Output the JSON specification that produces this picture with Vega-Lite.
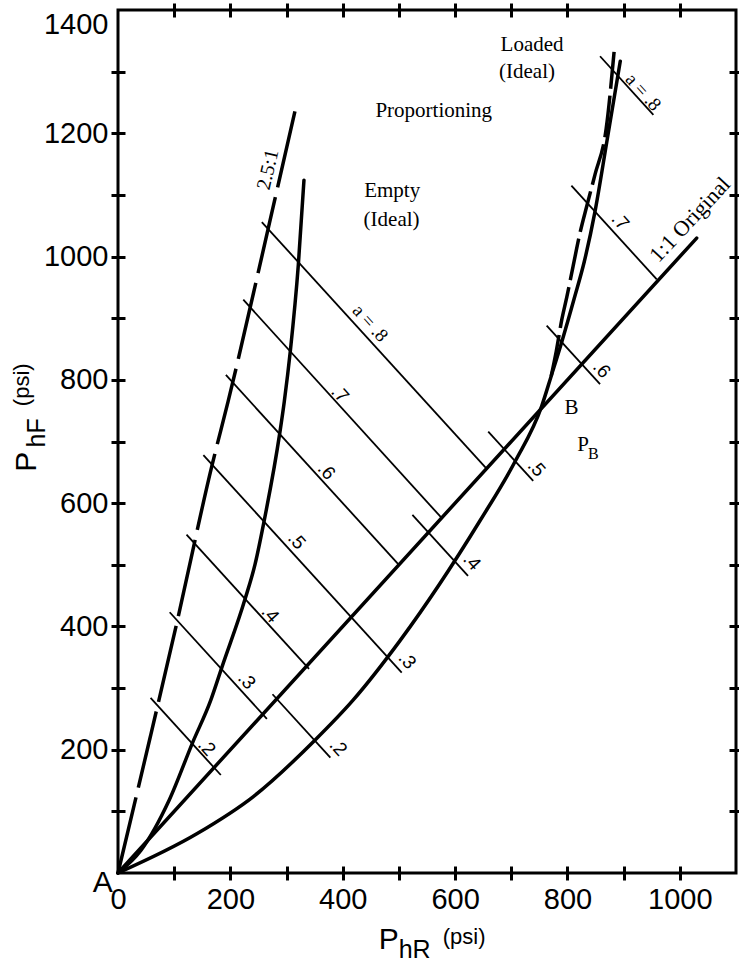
{
  "$schema": "https://vega.github.io/schema/vega-lite/v6.json",
  "width": 618,
  "height": 863,
  "autosize": {"type": "none"},
  "padding": {"left": 118, "top": 10, "right": 3, "bottom": 95},
  "background": "white",
  "config": {
    "view": {"stroke": "black", "strokeWidth": 3},
    "axis": {
      "domain": false,
      "grid": false,
      "offset": -7,
      "tickSize": 14,
      "tickWidth": 3,
      "tickColor": "black",
      "labelFont": "Liberation Sans Narrow, Liberation Sans, sans-serif",
      "labelFontSize": 29,
      "labelColor": "black",
      "format": "d"
    }
  },
  "datasets": {
    "curves": [
      {"curve": "2.5:1", "x": 0, "y": 0},
      {"curve": "2.5:1", "x": 57, "y": 219},
      {"curve": "2.5:1", "x": 105, "y": 407},
      {"curve": "2.5:1", "x": 167, "y": 660},
      {"curve": "2.5:1", "x": 196, "y": 765},
      {"curve": "2.5:1", "x": 267, "y": 1044},
      {"curve": "2.5:1", "x": 284, "y": 1112},
      {"curve": "2.5:1", "x": 318, "y": 1248},
      {"curve": "Empty", "x": 0, "y": 0},
      {"curve": "Empty", "x": 41, "y": 37},
      {"curve": "Empty", "x": 91, "y": 118},
      {"curve": "Empty", "x": 133, "y": 212},
      {"curve": "Empty", "x": 165, "y": 280},
      {"curve": "Empty", "x": 185, "y": 334},
      {"curve": "Empty", "x": 226, "y": 444},
      {"curve": "Empty", "x": 244, "y": 501},
      {"curve": "Empty", "x": 259, "y": 566},
      {"curve": "Empty", "x": 288, "y": 714},
      {"curve": "Empty", "x": 296, "y": 765},
      {"curve": "Empty", "x": 307, "y": 849},
      {"curve": "Empty", "x": 321, "y": 987},
      {"curve": "Empty", "x": 331, "y": 1124},
      {"curve": "Loaded", "x": 0, "y": 0},
      {"curve": "Loaded", "x": 141, "y": 64},
      {"curve": "Loaded", "x": 241, "y": 124},
      {"curve": "Loaded", "x": 350, "y": 215},
      {"curve": "Loaded", "x": 418, "y": 280},
      {"curve": "Loaded", "x": 502, "y": 377},
      {"curve": "Loaded", "x": 644, "y": 571},
      {"curve": "Loaded", "x": 707, "y": 668},
      {"curve": "Loaded", "x": 754, "y": 757},
      {"curve": "Loaded", "x": 771, "y": 806},
      {"curve": "Loaded", "x": 790, "y": 862},
      {"curve": "Loaded", "x": 812, "y": 932},
      {"curve": "Loaded", "x": 830, "y": 992},
      {"curve": "Loaded", "x": 849, "y": 1073},
      {"curve": "Loaded", "x": 870, "y": 1186},
      {"curve": "Loaded", "x": 894, "y": 1317},
      {"curve": "Loaded (Ideal)", "x": 771, "y": 806},
      {"curve": "Loaded (Ideal)", "x": 780, "y": 846},
      {"curve": "Loaded (Ideal)", "x": 790, "y": 898},
      {"curve": "Loaded (Ideal)", "x": 799, "y": 935},
      {"curve": "Loaded (Ideal)", "x": 810, "y": 984},
      {"curve": "Loaded (Ideal)", "x": 822, "y": 1037},
      {"curve": "Loaded (Ideal)", "x": 835, "y": 1084},
      {"curve": "Loaded (Ideal)", "x": 849, "y": 1133},
      {"curve": "Loaded (Ideal)", "x": 869, "y": 1208},
      {"curve": "Loaded (Ideal)", "x": 883, "y": 1332},
      {"curve": "1:1 Original", "x": 0, "y": 0},
      {"curve": "1:1 Original", "x": 1030, "y": 1030}
    ],
    "alines": [
      {"fam": "Empty", "a": 0.2, "x": 58, "y": 284, "x2": 183, "y2": 159},
      {"fam": "Empty", "a": 0.3, "x": 92, "y": 423, "x2": 265, "y2": 250},
      {"fam": "Empty", "a": 0.4, "x": 122, "y": 549, "x2": 340, "y2": 331},
      {"fam": "Empty", "a": 0.5, "x": 152, "y": 678, "x2": 415, "y2": 415},
      {"fam": "Empty", "a": 0.6, "x": 192, "y": 808, "x2": 500, "y2": 500},
      {"fam": "Empty", "a": 0.7, "x": 223, "y": 930, "x2": 576, "y2": 576},
      {"fam": "Empty", "a": 0.8, "x": 256, "y": 1056, "x2": 656, "y2": 656},
      {"fam": "Loaded", "a": 0.2, "x": 275, "y": 290, "x2": 378, "y2": 187},
      {"fam": "Loaded", "a": 0.3, "x": 415, "y": 415, "x2": 505, "y2": 325},
      {"fam": "Loaded", "a": 0.4, "x": 524, "y": 581, "x2": 623, "y2": 482},
      {"fam": "Loaded", "a": 0.5, "x": 659, "y": 716, "x2": 739, "y2": 636},
      {"fam": "Loaded", "a": 0.6, "x": 763, "y": 888, "x2": 858, "y2": 793},
      {"fam": "Loaded", "a": 0.7, "x": 807, "y": 1115, "x2": 959, "y2": 963},
      {"fam": "Loaded", "a": 0.8, "x": 858, "y": 1325, "x2": 953, "y2": 1230}
    ],
    "notes": [
      {"kind": "aNum", "text": ".2", "x": 158, "y": 204},
      {"kind": "aNum", "text": ".3", "x": 229, "y": 312},
      {"kind": "aNum", "text": ".4", "x": 271, "y": 420},
      {"kind": "aNum", "text": ".5", "x": 318, "y": 539},
      {"kind": "aNum", "text": ".6", "x": 371, "y": 652},
      {"kind": "aNum", "text": ".7", "x": 395, "y": 777},
      {"kind": "aNum", "text": ".2", "x": 392, "y": 204},
      {"kind": "aNum", "text": ".3", "x": 515, "y": 345},
      {"kind": "aNum", "text": ".4", "x": 630, "y": 505},
      {"kind": "aNum", "text": ".5", "x": 745, "y": 657},
      {"kind": "aNum", "text": ".6", "x": 861, "y": 817},
      {"kind": "aNum", "text": ".7", "x": 894, "y": 1057},
      {"kind": "aEq", "text": "a = .8", "x": 449, "y": 892},
      {"kind": "aEq", "text": "a = .8", "x": 935, "y": 1267},
      {"kind": "ratio", "text": "2.5:1", "x": 267, "y": 1141},
      {"kind": "orig", "text": "1:1 Original", "x": 1018, "y": 1060},
      {"kind": "note", "text": "Proportioning", "x": 562, "y": 1236},
      {"kind": "note", "text": "Empty", "x": 488, "y": 1107},
      {"kind": "note", "text": "(Ideal)", "x": 487, "y": 1059},
      {"kind": "note", "text": "Loaded", "x": 737, "y": 1344},
      {"kind": "note", "text": "(Ideal)", "x": 728, "y": 1299},
      {"kind": "note", "text": "B", "x": 807, "y": 754},
      {"kind": "note", "text": "P", "x": 828, "y": 695},
      {"kind": "sub", "text": "B", "x": 846, "y": 679},
      {"kind": "big", "text": "A", "x": -27, "y": -16},
      {"kind": "big", "text": "P", "x": 482, "y": -109},
      {"kind": "xsub", "text": "hR", "x": 528, "y": -125},
      {"kind": "unit", "text": "(psi)", "x": 616, "y": -104},
      {"kind": "ybig", "text": "P", "x": -162, "y": 667},
      {"kind": "ysub", "text": "hF", "x": -144, "y": 714},
      {"kind": "yunit", "text": "(psi)", "x": -171, "y": 792}
    ]
  },
  "layer": [
    {
      "data": {"name": "alines"},
      "mark": {"type": "rule", "color": "black", "strokeWidth": 1.8},
      "encoding": {
        "x": {"field": "x", "type": "quantitative", "scale": {"domain": [0, 1100], "nice": false, "zero": false}, "axis": null},
        "y": {"field": "y", "type": "quantitative", "scale": {"domain": [0, 1400], "nice": false, "zero": false}, "axis": null},
        "x2": {"field": "x2"},
        "y2": {"field": "y2"}
      }
    },
    {
      "data": {"name": "curves"},
      "transform": [{"filter": "datum.curve === 'Empty' || datum.curve === 'Loaded' || datum.curve === '1:1 Original'"}],
      "mark": {"type": "line", "color": "black", "strokeWidth": 3.5, "interpolate": "monotone", "strokeCap": "round"},
      "encoding": {
        "detail": {"field": "curve"},
        "x": {
          "field": "x", "type": "quantitative",
          "scale": {"domain": [0, 1100], "nice": false, "zero": false},
          "axis": {
            "orient": "bottom", "title": null,
            "values": [0, 100, 200, 300, 400, 500, 600, 700, 800, 900, 1000],
            "labelExpr": "datum.value % 200 === 0 ? datum.label : ''",
            "tickOpacity": {"condition": {"test": "datum.value === 0", "value": 0}, "value": 1},
            "labelPadding": 5, "labelOverlap": false, "labelFlush": false
          }
        },
        "y": {
          "field": "y", "type": "quantitative",
          "scale": {"domain": [0, 1400], "nice": false, "zero": false},
          "axis": {
            "orient": "left", "title": null,
            "values": [0, 100, 200, 300, 400, 500, 600, 700, 800, 900, 1000, 1100, 1200, 1300, 1400],
            "labelExpr": "datum.value > 0 && datum.value % 200 === 0 ? datum.label : ''",
            "labelBaseline": {"condition": {"test": "datum.value === 1400", "value": "top"}, "value": "middle"},
            "tickOpacity": {"condition": {"test": "datum.value === 0 || datum.value === 1400", "value": 0}, "value": 1},
            "labelPadding": 3, "labelOverlap": false, "labelFlush": false
          }
        }
      }
    },
    {
      "data": {"name": "curves"},
      "transform": [{"filter": "datum.curve === '2.5:1' || datum.curve === 'Loaded (Ideal)'"}],
      "mark": {"type": "line", "color": "black", "strokeWidth": 3.5, "interpolate": "monotone"},
      "encoding": {
        "detail": {"field": "curve"},
        "strokeDash": {
          "field": "curve", "type": "nominal",
          "scale": {"domain": ["2.5:1", "Loaded (Ideal)"], "range": [[78, 10], [42, 7]]},
          "legend": null
        },
        "x": {
          "field": "x", "type": "quantitative",
          "scale": {"domain": [0, 1100], "nice": false, "zero": false},
          "axis": {"orient": "top", "title": null, "labels": false,
                   "values": [100, 200, 300, 400, 500, 600, 700, 800, 900, 1000]}
        },
        "y": {
          "field": "y", "type": "quantitative",
          "scale": {"domain": [0, 1400], "nice": false, "zero": false},
          "axis": {"orient": "right", "title": null, "labels": false,
                   "values": [100, 200, 300, 400, 500, 600, 700, 800, 900, 1000, 1100, 1200, 1300]}
        }
      }
    },
    {
      "data": {"name": "notes"},
      "transform": [{"filter": "datum.kind === 'aNum'"}],
      "mark": {"type": "text", "angle": 48, "font": "Liberation Sans, sans-serif", "fontSize": 19, "color": "black", "align": "center", "baseline": "middle"},
      "encoding": {
        "text": {"field": "text"},
        "x": {"field": "x", "type": "quantitative", "scale": {"domain": [0, 1100], "nice": false, "zero": false}, "axis": null},
        "y": {"field": "y", "type": "quantitative", "scale": {"domain": [0, 1400], "nice": false, "zero": false}, "axis": null}
      }
    },
    {
      "data": {"name": "notes"},
      "transform": [{"filter": "datum.kind === 'aEq'"}],
      "mark": {"type": "text", "angle": 48, "font": "Liberation Serif, serif", "fontSize": 19, "color": "black", "align": "center", "baseline": "middle"},
      "encoding": {
        "text": {"field": "text"},
        "x": {"field": "x", "type": "quantitative", "scale": {"domain": [0, 1100], "nice": false, "zero": false}, "axis": null},
        "y": {"field": "y", "type": "quantitative", "scale": {"domain": [0, 1400], "nice": false, "zero": false}, "axis": null}
      }
    },
    {
      "data": {"name": "notes"},
      "transform": [{"filter": "datum.kind === 'ratio'"}],
      "mark": {"type": "text", "angle": -77, "font": "Liberation Serif, serif", "fontSize": 20, "color": "black", "align": "center", "baseline": "middle"},
      "encoding": {
        "text": {"field": "text"},
        "x": {"field": "x", "type": "quantitative", "scale": {"domain": [0, 1100], "nice": false, "zero": false}, "axis": null},
        "y": {"field": "y", "type": "quantitative", "scale": {"domain": [0, 1400], "nice": false, "zero": false}, "axis": null}
      }
    },
    {
      "data": {"name": "notes"},
      "transform": [{"filter": "datum.kind === 'orig'"}],
      "mark": {"type": "text", "angle": -47, "font": "Liberation Serif, serif", "fontSize": 22, "color": "black", "align": "center", "baseline": "middle"},
      "encoding": {
        "text": {"field": "text"},
        "x": {"field": "x", "type": "quantitative", "scale": {"domain": [0, 1100], "nice": false, "zero": false}, "axis": null},
        "y": {"field": "y", "type": "quantitative", "scale": {"domain": [0, 1400], "nice": false, "zero": false}, "axis": null}
      }
    },
    {
      "data": {"name": "notes"},
      "transform": [{"filter": "datum.kind === 'note'"}],
      "mark": {"type": "text", "font": "Liberation Serif, serif", "fontSize": 21, "color": "black", "align": "center", "baseline": "middle"},
      "encoding": {
        "text": {"field": "text"},
        "x": {"field": "x", "type": "quantitative", "scale": {"domain": [0, 1100], "nice": false, "zero": false}, "axis": null},
        "y": {"field": "y", "type": "quantitative", "scale": {"domain": [0, 1400], "nice": false, "zero": false}, "axis": null}
      }
    },
    {
      "data": {"name": "notes"},
      "transform": [{"filter": "datum.kind === 'sub'"}],
      "mark": {"type": "text", "font": "Liberation Serif, serif", "fontSize": 16, "color": "black", "align": "center", "baseline": "middle"},
      "encoding": {
        "text": {"field": "text"},
        "x": {"field": "x", "type": "quantitative", "scale": {"domain": [0, 1100], "nice": false, "zero": false}, "axis": null},
        "y": {"field": "y", "type": "quantitative", "scale": {"domain": [0, 1400], "nice": false, "zero": false}, "axis": null}
      }
    },
    {
      "data": {"name": "notes"},
      "transform": [{"filter": "datum.kind === 'big'"}],
      "mark": {"type": "text", "font": "Liberation Sans Narrow, Liberation Sans, sans-serif", "fontSize": 30, "color": "black", "align": "center", "baseline": "middle"},
      "encoding": {
        "text": {"field": "text"},
        "x": {"field": "x", "type": "quantitative", "scale": {"domain": [0, 1100], "nice": false, "zero": false}, "axis": null},
        "y": {"field": "y", "type": "quantitative", "scale": {"domain": [0, 1400], "nice": false, "zero": false}, "axis": null}
      }
    },
    {
      "data": {"name": "notes"},
      "transform": [{"filter": "datum.kind === 'xsub'"}],
      "mark": {"type": "text", "font": "Liberation Sans Narrow, Liberation Sans, sans-serif", "fontSize": 25, "color": "black", "align": "center", "baseline": "middle"},
      "encoding": {
        "text": {"field": "text"},
        "x": {"field": "x", "type": "quantitative", "scale": {"domain": [0, 1100], "nice": false, "zero": false}, "axis": null},
        "y": {"field": "y", "type": "quantitative", "scale": {"domain": [0, 1400], "nice": false, "zero": false}, "axis": null}
      }
    },
    {
      "data": {"name": "notes"},
      "transform": [{"filter": "datum.kind === 'unit'"}],
      "mark": {"type": "text", "font": "Liberation Sans Narrow, Liberation Sans, sans-serif", "fontSize": 22, "color": "black", "align": "center", "baseline": "middle"},
      "encoding": {
        "text": {"field": "text"},
        "x": {"field": "x", "type": "quantitative", "scale": {"domain": [0, 1100], "nice": false, "zero": false}, "axis": null},
        "y": {"field": "y", "type": "quantitative", "scale": {"domain": [0, 1400], "nice": false, "zero": false}, "axis": null}
      }
    },
    {
      "data": {"name": "notes"},
      "transform": [{"filter": "datum.kind === 'ybig'"}],
      "mark": {"type": "text", "angle": -90, "font": "Liberation Sans Narrow, Liberation Sans, sans-serif", "fontSize": 30, "color": "black", "align": "center", "baseline": "middle"},
      "encoding": {
        "text": {"field": "text"},
        "x": {"field": "x", "type": "quantitative", "scale": {"domain": [0, 1100], "nice": false, "zero": false}, "axis": null},
        "y": {"field": "y", "type": "quantitative", "scale": {"domain": [0, 1400], "nice": false, "zero": false}, "axis": null}
      }
    },
    {
      "data": {"name": "notes"},
      "transform": [{"filter": "datum.kind === 'ysub'"}],
      "mark": {"type": "text", "angle": -90, "font": "Liberation Sans Narrow, Liberation Sans, sans-serif", "fontSize": 25, "color": "black", "align": "center", "baseline": "middle"},
      "encoding": {
        "text": {"field": "text"},
        "x": {"field": "x", "type": "quantitative", "scale": {"domain": [0, 1100], "nice": false, "zero": false}, "axis": null},
        "y": {"field": "y", "type": "quantitative", "scale": {"domain": [0, 1400], "nice": false, "zero": false}, "axis": null}
      }
    },
    {
      "data": {"name": "notes"},
      "transform": [{"filter": "datum.kind === 'yunit'"}],
      "mark": {"type": "text", "angle": -90, "font": "Liberation Sans Narrow, Liberation Sans, sans-serif", "fontSize": 22, "color": "black", "align": "center", "baseline": "middle"},
      "encoding": {
        "text": {"field": "text"},
        "x": {"field": "x", "type": "quantitative", "scale": {"domain": [0, 1100], "nice": false, "zero": false}, "axis": null},
        "y": {"field": "y", "type": "quantitative", "scale": {"domain": [0, 1400], "nice": false, "zero": false}, "axis": null}
      }
    }
  ],
  "resolve": {"axis": {"x": "independent", "y": "independent"}}
}
